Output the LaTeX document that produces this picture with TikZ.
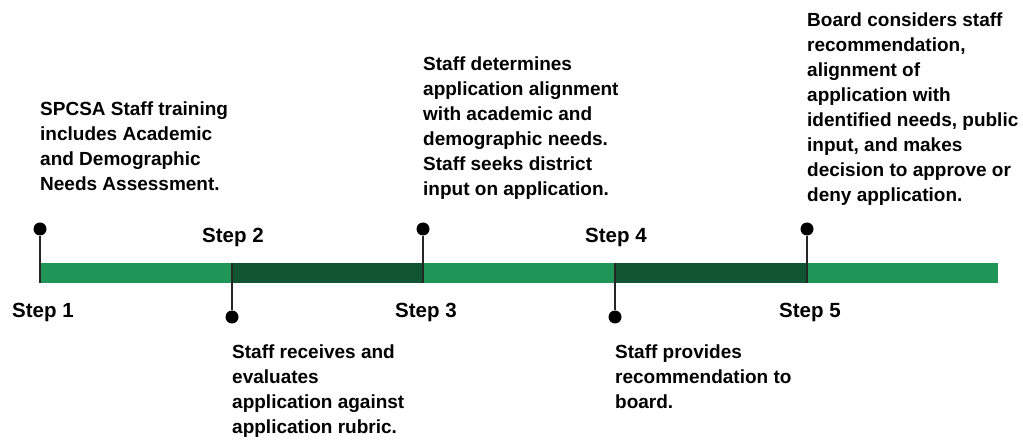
\documentclass[tikz,border=0pt]{standalone}
\usepackage{fontspec}
\setmainfont{Liberation Sans}
\definecolor{barlight}{HTML}{1F9658}
\definecolor{bardark}{HTML}{0F5532}

\begin{document}
\begin{tikzpicture}[x=1pt,y=-1pt,
    stepname/.style={font=\bfseries\fontsize{20.5}{25}\selectfont, anchor=base, inner sep=0pt},
    note/.style={font=\bfseries\fontsize{19}{25}\selectfont, anchor=north west, align=left, inner sep=0pt},
    pin/.style={line width=1.3pt, black!85},
    knob/.style={circle, fill=black, inner sep=0pt, minimum size=13pt}]
  \useasboundingbox (0,0) rectangle (1023,443);
  % timeline bar
  \fill[barlight] (40,263) rectangle (998,283);
  \fill[bardark] (232,263) rectangle (423,283);
  \fill[bardark] (615,263) rectangle (807,283);
  % markers above the bar
  \foreach \n/\x in {1/40,3/423,5/807}{
    \node[knob] (dot\n) at (\x,229) {};
    \coordinate (tick\n) at (\x,283);
    \draw[pin] (dot\n) -- (tick\n);
    \node[stepname] (step\n) at (\x+3,318) {Step \n};
  }
  % markers below the bar
  \foreach \n/\x in {2/232,4/615}{
    \node[knob] (dot\n) at (\x,317) {};
    \coordinate (tick\n) at (\x,263);
    \draw[pin] (tick\n) -- (dot\n);
    \node[stepname] (step\n) at (\x+1,243) {Step \n};
  }
  % texts
  \node[note] (note1) at (40,102) {SPCSA Staff training\\includes Academic\\and Demographic\\Needs Assessment.};
  \node[note] (note2) at (232,345) {Staff receives and\\evaluates\\application against\\application rubric.};
  \node[note] (note3) at (423,57) {Staff determines\\application alignment\\with academic and\\demographic needs.\\Staff seeks district\\input on application.};
  \node[note] (note4) at (615,345) {Staff provides\\recommendation to\\board.};
  \node[note] (note5) at (807,13) {Board considers staff\\recommendation,\\alignment of\\application with\\identified needs, public\\input, and makes\\decision to approve or\\deny application.};
\end{tikzpicture}
\end{document}
